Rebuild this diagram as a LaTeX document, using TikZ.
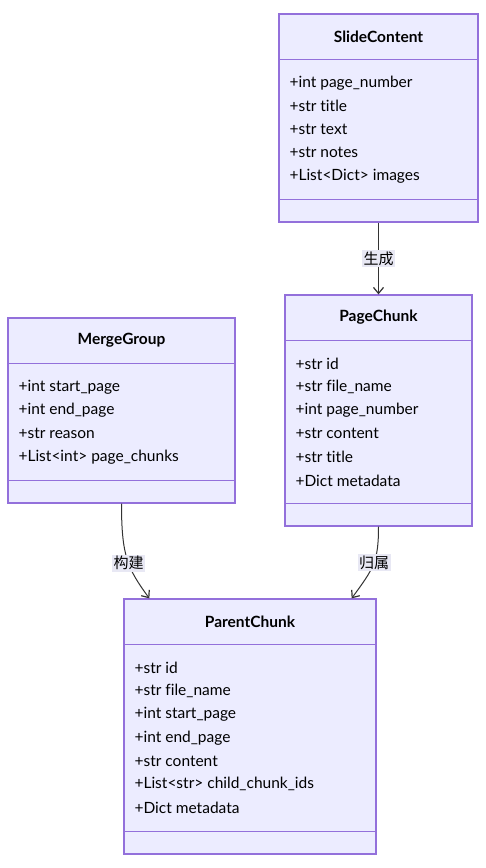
\documentclass[tikz,border=0pt]{standalone}
\usepackage{fontspec}
\setmainfont{Lato}[Ligatures=NoCommon]
\newfontfamily\cjk{Noto Sans CJK SC}
\usetikzlibrary{arrows.meta}
\definecolor{classfill}{HTML}{ECECFF}
\definecolor{classline}{HTML}{9370DB}
\definecolor{edgeline}{HTML}{333333}
\definecolor{labelfill}{HTML}{E8E8F4}
\tikzset{
  classbox/.style={draw=classline,fill=classfill,line width=1.3pt,inner sep=0pt},
  classtitle/.style={font=\fontsize{15.5}{18}\selectfont\bfseries,inner sep=0pt},
  attr/.style={font=\fontsize{15.5}{18}\selectfont,anchor=west,inner sep=0pt},
  divider/.style={draw=classline,line width=1.3pt},
  rel/.style={draw=edgeline,line width=1pt,-{Straight Barb[length=6pt,width=10pt,line width=1.2pt]}},
  rellabel/.style={fill=labelfill,font=\cjk\fontsize{15}{18}\selectfont,inner sep=1.5pt}
}
\begin{document}
\begin{tikzpicture}[x=1pt,y=-1pt]
  \useasboundingbox (0,0) rectangle (486,868);
  % class boxes
  \node[classbox,minimum width=199pt,minimum height=208pt] (slide) at (378.5,118) {};
  \node[classbox,minimum width=187pt,minimum height=231pt] (page) at (378.5,410.5) {};
  \node[classbox,minimum width=227pt,minimum height=185pt] (merge) at (121.5,410.5) {};
  \node[classbox,minimum width=252pt,minimum height=255pt] (parent) at (250,726.5) {};
  % dividers
  \foreach \b in {slide,page,merge,parent} {
    \draw[divider] ([yshift=-46pt]\b.north west) -- ([yshift=-46pt]\b.north east);
    \draw[divider] ([yshift=23pt]\b.south west) -- ([yshift=23pt]\b.south east);
  }
  % titles
  \node[classtitle] (slideT) at ([yshift=-23pt]slide.north) {SlideContent};
  \node[classtitle] (pageT) at ([yshift=-23pt]page.north) {PageChunk};
  \node[classtitle] (mergeT) at ([yshift=-23pt]merge.north) {MergeGroup};
  \node[classtitle] (parentT) at ([yshift=-23pt]parent.north) {ParentChunk};
  % attributes
  \foreach \t [count=\i] in {+int page\_number,+str title,+str text,+str notes,+List<Dict> images}
    \node[attr] (slideA\i) at ([xshift=11pt,yshift={-69.5pt-(\i-1)*23.3pt}]slide.north west) {\t};
  \foreach \t [count=\i] in {+str id,+str file\_name,+int page\_number,+str content,+str title,+Dict metadata}
    \node[attr] (pageA\i) at ([xshift=11pt,yshift={-69.5pt-(\i-1)*23.3pt}]page.north west) {\t};
  \foreach \t [count=\i] in {+int start\_page,+int end\_page,+str reason,+List<int> page\_chunks}
    \node[attr] (mergeA\i) at ([xshift=11pt,yshift={-69.5pt-(\i-1)*23.3pt}]merge.north west) {\t};
  \foreach \t [count=\i] in {+str id,+str file\_name,+int start\_page,+int end\_page,+str content,+List<str> child\_chunk\_ids,+Dict metadata}
    \node[attr] (parentA\i) at ([xshift=11pt,yshift={-69.5pt-(\i-1)*23.3pt}]parent.north west) {\t};
  % relations
  \coordinate (parentL) at ([xshift=26pt]parent.north west);
  \coordinate (parentR) at ([xshift=-25pt]parent.north east);
  \draw[rel] (slide.south) -- (page.north) node[midway,rellabel] {生成};
  \draw[rel] (merge.south) .. controls ([yshift=-52pt]merge.south) and ([xshift=-22pt,yshift=30pt]parentL) .. (parentL)
    node[pos=0.55,rellabel] {构建};
  \draw[rel] (page.south) .. controls ([yshift=-35pt]page.south) and ([xshift=22pt,yshift=30pt]parentR) .. (parentR)
    node[pos=0.47,rellabel] {归属};
\end{tikzpicture}
\end{document}
